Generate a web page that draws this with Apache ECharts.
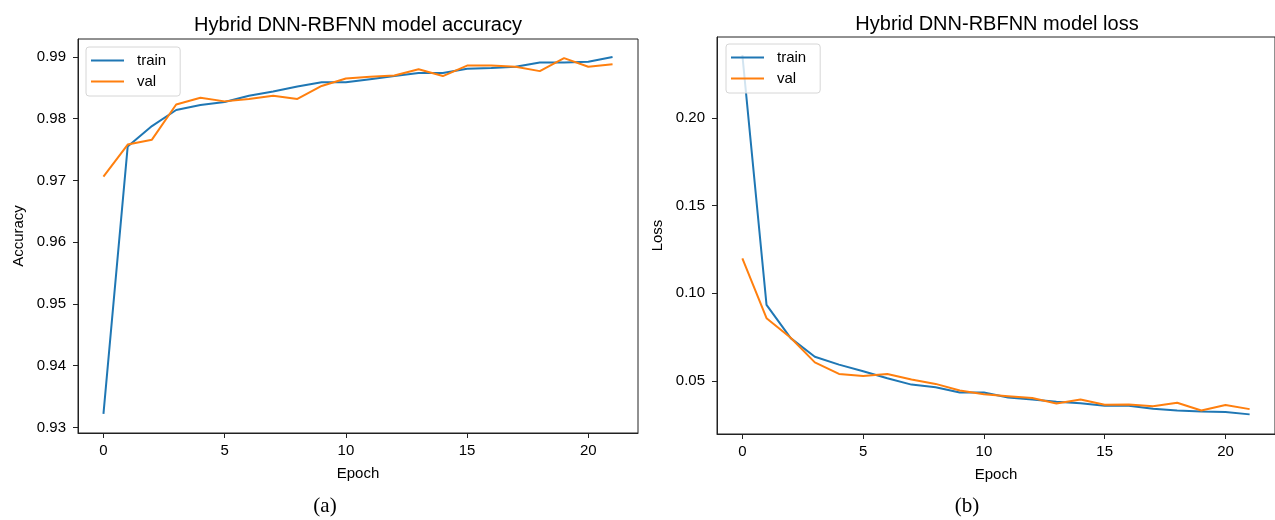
<!DOCTYPE html>
<html>
<head>
<meta charset="utf-8">
<script src="https://cdn.jsdelivr.net/npm/echarts@6/dist/echarts.min.js"></script>
<style>
html,body{margin:0;padding:0;background:#fff;}
#main{width:1275px;height:520px;}
</style>
</head>
<body>
<div id="main"></div>
<script>
// ---- data ----
const epochs = [0,1,2,3,4,5,6,7,8,9,10,11,12,13,14,15,16,17,18,19,20,21];
const accTrain = [0.9322,0.9755,0.9788,0.9814,0.9822,0.9827,0.9837,0.9844,0.9852,0.9859,0.9859,0.9864,0.9869,0.9874,0.9874,0.9881,0.9882,0.9884,0.9891,0.9891,0.9892,0.9900];
const accVal   = [0.9706,0.9758,0.9766,0.9823,0.9834,0.9828,0.9832,0.9837,0.9832,0.9853,0.9865,0.9868,0.9870,0.9880,0.9869,0.9886,0.9886,0.9884,0.9877,0.9898,0.9884,0.9888];
const lossTrain = [0.2360,0.0934,0.0744,0.0638,0.0593,0.0555,0.0515,0.0479,0.0464,0.0434,0.0434,0.0405,0.0394,0.0381,0.0373,0.0358,0.0358,0.0341,0.0331,0.0326,0.0322,0.0309];
const lossVal   = [0.1200,0.0858,0.0746,0.0606,0.0540,0.0528,0.0540,0.0508,0.0483,0.0445,0.0424,0.0413,0.0402,0.0371,0.0394,0.0364,0.0366,0.0356,0.0375,0.0331,0.0362,0.0339];
const xTicks = [0,5,10,15,20];
const accTicks = [0.93,0.94,0.95,0.96,0.97,0.98,0.99];
const lossTicks = [0.05,0.10,0.15,0.20];
const titles = ['Hybrid DNN-RBFNN model accuracy','Hybrid DNN-RBFNN model loss'];
const captions = ['(a)','(b)'];
const yNames = ['Accuracy','Loss'];
const seriesNames = ['train','val'];

const BLUE = '#1f77b4', ORANGE = '#ff7f0e';
const FONT = '"Liberation Sans", Arial, Helvetica, sans-serif';

function pairs(ys){ return epochs.map((e,i)=>[e, ys[i]]); }

function xAxis(idx){
  return {
    type:'value', gridIndex:idx, min:-1.05, max:22.05,
    name:'Epoch', nameLocation:'middle', nameGap:33,
    nameTextStyle:{color:'#000', fontSize:15, fontFamily:FONT},
    axisLine:{show:true, onZero:false, lineStyle:{color:'#222', width:1}},
    axisTick:{show:true, customValues:xTicks, length:5, lineStyle:{color:'#222'}},
    axisLabel:{customValues:xTicks, color:'#000', fontSize:15, fontFamily:FONT, margin:10},
    splitLine:{show:false}
  };
}
function yAxis(idx, min, max, ticks, name){
  return {
    type:'value', gridIndex:idx, min:min, max:max,
    name:name, nameLocation:'middle', nameGap:52, nameRotate:90,
    nameTextStyle:{color:'#000', fontSize:15, fontFamily:FONT},
    axisLine:{show:true, onZero:false, lineStyle:{color:'#222', width:1}},
    axisTick:{show:true, customValues:ticks, length:5, lineStyle:{color:'#222'}},
    axisLabel:{customValues:ticks, color:'#000', fontSize:15, fontFamily:FONT, margin:12,
      formatter:(v)=>v.toFixed(2)},
    splitLine:{show:false}
  };
}
function legend(left, top){
  return {
    orient:'vertical', left:left, top:top,
    data:seriesNames,
    icon:'rect', itemWidth:33, itemHeight:2, itemGap:6,
    padding:[6,14,7,5],
    backgroundColor:'rgba(255,255,255,0.8)',
    borderColor:'#d6d6d6', borderWidth:1, borderRadius:3,
    textStyle:{color:'#000', fontSize:15, fontFamily:FONT, padding:[0,0,0,8]},
    selectedMode:false
  };
}
function line(name, color, data, idx){
  return {
    type:'line', name:name, xAxisIndex:idx, yAxisIndex:idx,
    data:pairs(data), showSymbol:false, symbol:'none',
    lineStyle:{color:color, width:2}, itemStyle:{color:color},
    animation:false, z:3
  };
}

const chart = echarts.init(document.getElementById('main'), null, {renderer:'canvas'});
chart.setOption({
  backgroundColor:'#fff',
  animation:false,
  grid:[
    {left:78, top:39, width:560, height:394, show:true, borderColor:'#222', borderWidth:1, backgroundColor:'transparent'},
    {left:717, top:37, width:561, height:397, show:true, borderColor:'#222', borderWidth:1, backgroundColor:'transparent'}
  ],
  xAxis:[xAxis(0), xAxis(1)],
  yAxis:[
    yAxis(0, 0.9291, 0.9929, accTicks, yNames[0]),
    yAxis(1, 0.0197, 0.2463, lossTicks, yNames[1])
  ],
  legend:[legend(86,47), legend(726,44)],
  series:[
    line(seriesNames[0], BLUE, accTrain, 0),
    line(seriesNames[1], ORANGE, accVal, 0),
    line(seriesNames[0], BLUE, lossTrain, 1),
    line(seriesNames[1], ORANGE, lossVal, 1)
  ],
  graphic:[
    {type:'text', x:358, y:25, style:{text:titles[0], fill:'#000', font:'20px '+FONT, textAlign:'center', textVerticalAlign:'middle'}},
    {type:'text', x:997, y:24, style:{text:titles[1], fill:'#000', font:'20px '+FONT, textAlign:'center', textVerticalAlign:'middle'}},
    {type:'text', x:325, y:506, style:{text:captions[0], fill:'#000', font:'21px "Liberation Serif", "Times New Roman", serif', textAlign:'center', textVerticalAlign:'middle'}},
    {type:'text', x:967, y:506, style:{text:captions[1], fill:'#000', font:'21px "Liberation Serif", "Times New Roman", serif', textAlign:'center', textVerticalAlign:'middle'}}
  ]
});
</script>
</body>
</html>
